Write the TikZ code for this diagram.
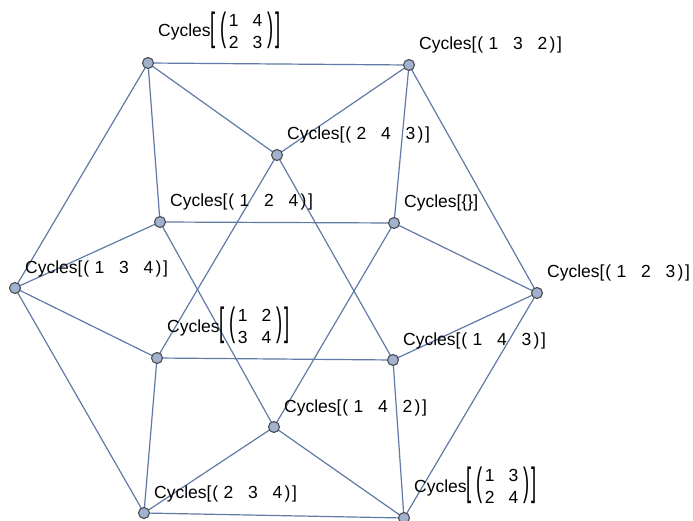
\documentclass[tikz,border=0pt]{standalone}
\usepackage{fontspec}
\usepackage{graphicx}
\setmainfont{Liberation Sans}
\definecolor{edgec}{RGB}{96,122,166}
\definecolor{vfill}{RGB}{160,178,206}
\definecolor{vdraw}{RGB}{75,75,80}
\newcommand{\cycl}[3]{Cycles[\hspace{0.05em}(\hspace{0.3em}#1\hspace{0.85em}#2\hspace{0.85em}#3\hspace{0.12em})\hspace{0.1em}]}
\newcommand{\bigdel}[1]{\raisebox{-0.225em}{\scalebox{1.05}[2.25]{#1}}}
\newcommand{\cycm}[4]{Cycles\bigdel{[}\hspace{0.25em}\bigdel{(}\hspace{0.15em}\raisebox{-0.65em}{\begin{tabular}[b]{@{}c@{\hspace{0.8em}}c@{}}#1&#2\\#3&#4\end{tabular}}\hspace{0.3em}\bigdel{)}\hspace{0.08em}\bigdel{]}}
\tikzset{
  vtx/.style={circle,minimum size=11pt,inner sep=0pt,draw=vdraw,fill=vfill,line width=1.1pt},
  edg/.style={draw=edgec,line width=1.2pt},
  lbl/.style={anchor=base west,inner sep=0pt,font=\fontsize{17.5}{22}\selectfont},
}
\begin{document}
\begin{tikzpicture}[x=1pt,y=-1pt]
\useasboundingbox (0,0) rectangle (693,521);
\coordinate (p1) at (148,63);
\coordinate (p2) at (409,65);
\coordinate (p3) at (277,155);
\coordinate (p4) at (160,222);
\coordinate (p5) at (394,223);
\coordinate (p6) at (15,288);
\coordinate (p7) at (537,293);
\coordinate (p8) at (157,358);
\coordinate (p9) at (393,360);
\coordinate (p10) at (274,427);
\coordinate (p11) at (144,513);
\coordinate (p12) at (404,518);
\foreach \a/\b in {1/2,1/3,1/4,1/6,2/3,2/5,2/7,3/8,3/9,4/5,4/6,4/10,5/7,5/10,6/8,6/11,7/9,7/12,8/9,8/11,9/12,10/11,10/12,11/12}
  \draw[edg] (p\a) -- (p\b);
\foreach \i in {1,...,12}
  \node[vtx] (v\i) at (p\i) {};
\node[lbl] (l1) at ([shift={(10,-26)}]p1) {\cycm1423};
\node[lbl] (l2) at ([shift={(10,-15)}]p2) {\cycl132};
\node[lbl] (l3) at ([shift={(10,-15)}]p3) {\cycl243};
\node[lbl] (l4) at ([shift={(10,-15)}]p4) {\cycl124};
\node[lbl] (l5) at ([shift={(10,-15)}]p5) {Cycles[\{\}]};
\node[lbl] (l6) at ([shift={(10,-15)}]p6) {\cycl134};
\node[lbl] (l7) at ([shift={(10,-15)}]p7) {\cycl123};
\node[lbl] (l8) at ([shift={(10,-26)}]p8) {\cycm1234};
\node[lbl] (l9) at ([shift={(10,-15)}]p9) {\cycl143};
\node[lbl] (l10) at ([shift={(10,-15)}]p10) {\cycl142};
\node[lbl] (l11) at ([shift={(10,-15)}]p11) {\cycl234};
\node[lbl] (l12) at ([shift={(10,-26)}]p12) {\cycm1324};
\end{tikzpicture}
\end{document}
